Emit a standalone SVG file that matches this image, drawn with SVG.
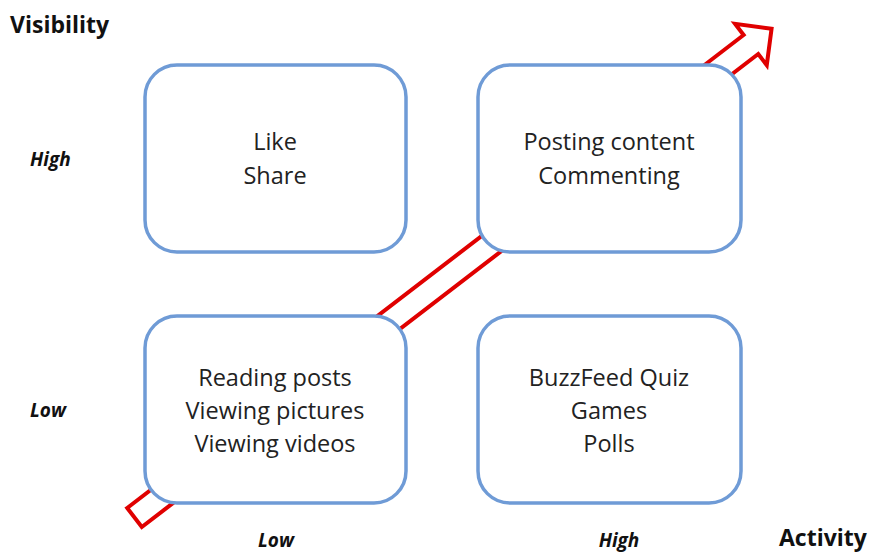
<svg xmlns="http://www.w3.org/2000/svg" width="869" height="552" viewBox="0 0 869 552">
<style>
.box{fill:#fff;stroke:#6f9bd6;stroke-width:3.5}
.t{font-family:"Open Sans","Liberation Sans",sans-serif;font-size:23.5px;fill:#222;text-anchor:middle}
.ax{font-family:"Open Sans","Liberation Sans",sans-serif;font-size:23px;font-weight:bold;fill:#111}
.lv{font-family:"Open Sans","Liberation Sans",sans-serif;font-size:19px;font-weight:bold;font-style:italic;fill:#111}
.arrow{fill:none;stroke:#e00000;stroke-width:4;stroke-linejoin:miter}
</style>
<rect width="869" height="552" fill="#fff"/>
<g id="connectors">
<polygon class="arrow" transform="translate(134.5,517.5) rotate(-37.5)" points="0,-12 777,-12 777,-26 803,0 777,26 777,12 0,12"/>
</g>
<g id="node-like">
<rect class="box" x="145" y="65" width="261" height="187" rx="32"/>
<text class="t" x="275" y="150">Like</text>
<text class="t" x="275" y="184">Share</text>
</g>
<g id="node-posting">
<rect class="box" x="478" y="65" width="263" height="187" rx="32"/>
<text class="t" x="609" y="150">Posting content</text>
<text class="t" x="609" y="184">Commenting</text>
</g>
<g id="node-reading">
<rect class="box" x="145" y="316" width="261" height="187" rx="32"/>
<text class="t" x="275" y="386">Reading posts</text>
<text class="t" x="275" y="419">Viewing pictures</text>
<text class="t" x="275" y="452">Viewing videos</text>
</g>
<g id="node-buzzfeed">
<rect class="box" x="478" y="316" width="263" height="187" rx="32"/>
<text class="t" x="609" y="386">BuzzFeed Quiz</text>
<text class="t" x="609" y="419">Games</text>
<text class="t" x="609" y="452">Polls</text>
</g>
<g id="labels">
<text class="ax" x="10" y="33">Visibility</text>
<text class="ax" x="779" y="546">Activity</text>
<text class="lv" x="30" y="166">High</text>
<text class="lv" x="30" y="417">Low</text>
<text class="lv" x="276" y="547" text-anchor="middle">Low</text>
<text class="lv" x="619" y="547" text-anchor="middle">High</text>
</g>
</svg>
